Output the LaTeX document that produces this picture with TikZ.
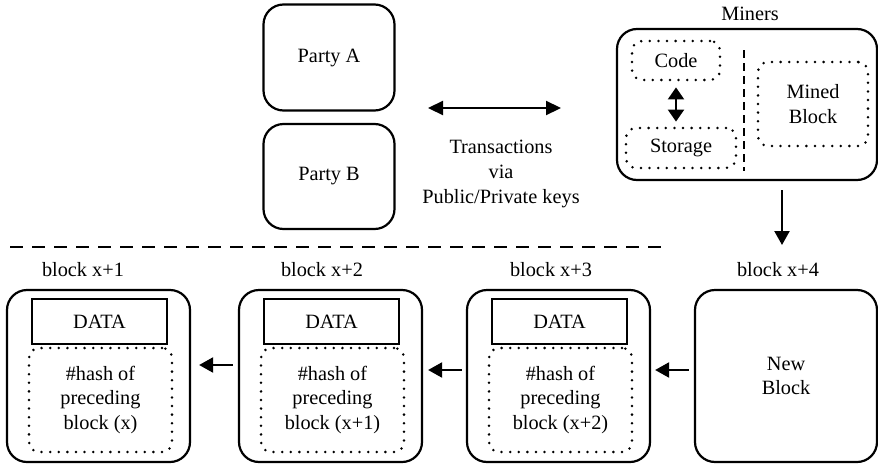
\documentclass[tikz,border=0pt]{standalone}
\usepackage{fontspec}
\setmainfont{Liberation Serif}
\usetikzlibrary{arrows.meta,calc}

\tikzset{
  every node/.style={font=\fontsize{20.3}{24.8}\selectfont, align=center, inner sep=0pt},
  roundbox/.style={draw, line width=2.2pt, rounded corners=20pt},
  dotbox/.style={draw, line width=2.8pt, line cap=round, dash pattern=on 0pt off 8.6pt, rounded corners=10pt},
  databox/.style={draw, line width=2.2pt, minimum width=135pt, minimum height=45pt},
  hashbox/.style={dotbox, minimum width=143pt, minimum height=104pt},
  blockbox/.style={roundbox, minimum width=183pt, minimum height=172pt},
  arr/.style={line width=2.2pt, -{Triangle[length=14pt,width=15pt]}},
  dblarr/.style={line width=2.2pt, {Triangle[length=15pt,width=14pt]}-{Triangle[length=15pt,width=14pt]}},
  tag/.style={font=\fontsize{20.3}{24.8}\selectfont},
}

\begin{document}
\begin{tikzpicture}[x=1pt,y=-1pt]
\useasboundingbox (0,0) rectangle (878,466);

% parties and transactions
\node[roundbox, minimum width=131pt, minimum height=106pt] (pa) at (329,57.5) {Party A};
\node[roundbox, minimum width=131pt, minimum height=105pt] (pb) at (329,176.5) {Party B};
\coordinate (tl) at (428,108);
\coordinate (tr) at (561,108);
\draw[dblarr] (tl) -- (tr);
\node (tx) at (501,174) {Transactions\\via\\Public/Private keys};

% miners
\node[roundbox, minimum width=260pt, minimum height=151pt] (miners) at (747,104.5) {};
\node[tag] (minerslbl) at (750,14) {Miners};
\node[dotbox, minimum width=88pt, minimum height=39pt] (code) at (676,60.5) {Code};
\node[dotbox, minimum width=110pt, minimum height=40pt] (storage) at (681,148) {Storage};
\node[dotbox, minimum width=110pt, minimum height=84pt] (mined) at (813,104) {Mined\\Block};
\coordinate (sepT) at (744,50);
\coordinate (sepB) at (744,171);
\draw[line width=2.4pt, dash pattern=on 8pt off 5pt] (sepT) -- (sepB);
\draw[line width=2.2pt, {Triangle[length=12pt,width=16pt]}-{Triangle[length=12pt,width=16pt]}, shorten <=6pt, shorten >=5pt]
  (code.south) -- (code.south |- storage.north);

% separator between the two halves
\coordinate (hl) at (10,247);
\coordinate (hr) at (666,247);
\draw[line width=2.4pt, dash pattern=on 13pt off 9pt] (hl) -- (hr);

% chain of blocks
\foreach \n/\cx/\lx/\lab in {b1/98.5/83/{block x+1}, b2/330.5/322/{block x+2}, b3/558.5/551/{block x+3}} {
  \node[blockbox] (\n) at (\cx,376) {};
  \node[tag] (\n lbl) at (\lx,270) {\lab};
  \node[databox] (\n data) at (\cx+1,321.5) {DATA};
}
\node[hashbox] (b1hash) at (100.5,400) {\#hash of\\preceding\\block (x)};
\node[hashbox] (b2hash) at (332.5,400) {\#hash of\\preceding\\block (x+1)};
\node[hashbox] (b3hash) at (560.5,400) {\#hash of\\preceding\\block (x+2)};

\node[roundbox, minimum width=182pt, minimum height=172pt] (nb) at (786,376) {New\\Block};
\node[tag] (nblbl) at (778,270) {block x+4};

% links
\coordinate (dtop) at (782,190);
\coordinate (dbot) at (782,245);
\draw[arr] (dtop) -- (dbot);
\draw[arr, shorten <=5pt, shorten >=8pt] ([yshift=11pt]b2.west) -- ([yshift=11pt]b1.east);
\draw[arr, shorten <=4pt, shorten >=5pt] ([yshift=6pt]b3.west) -- ([yshift=6pt]b2.east);
\draw[arr, shorten <=5pt, shorten >=4pt] ([yshift=6pt]nb.west) -- ([yshift=6pt]b3.east);
\end{tikzpicture}
\end{document}
